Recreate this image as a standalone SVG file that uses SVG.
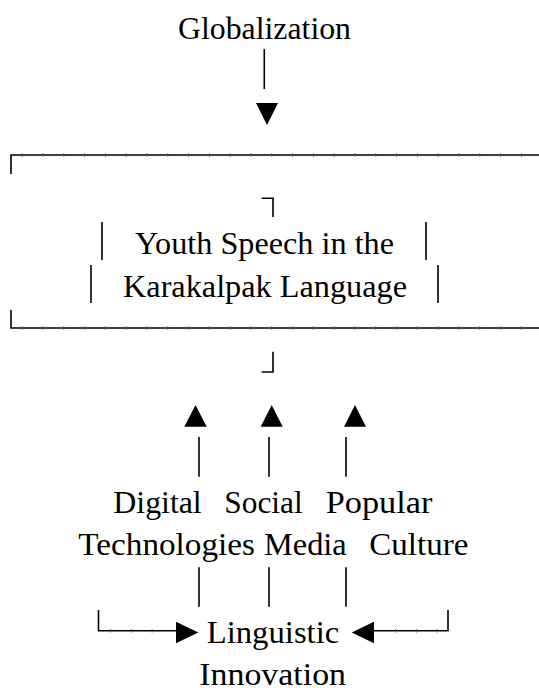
<svg xmlns="http://www.w3.org/2000/svg" width="539" height="688" viewBox="0 0 539 688">
<style>
.t{font-family:"Liberation Serif","Times New Roman",serif;font-size:32px;fill:#000}
.ln{stroke:#000;stroke-width:1.6;fill:none;stroke-linecap:butt}
.tk{stroke:#555;stroke-width:3.4;fill:none;stroke-dasharray:1 19.8}
.ar{fill:#000}
</style>
<rect width="539" height="688" fill="#fff"/>
<g id="globalization"><text class="t" x="178" y="39.3" textLength="173" lengthAdjust="spacingAndGlyphs">Globalization</text></g>
<g id="youth-speech">
<text class="t" x="135" y="254" textLength="259" lengthAdjust="spacingAndGlyphs">Youth Speech in the</text>
<text class="t" x="123" y="297" textLength="284" lengthAdjust="spacingAndGlyphs">Karakalpak Language</text>
<path class="ln" d="M11,174 V155 H539"/>
<path class="tk" d="M21.7,155 H539"/>
<path class="ln" d="M11,310 V328 H539"/>
<path class="tk" d="M21.7,328 H539"/>
<path class="ln" d="M261.7,198.3 H273 V217"/>
<path class="ln" d="M102,222 V260 M426,222 V260 M91,265 V303 M438,265 V303"/>
<path class="ln" d="M273,351.7 V372 H261.7"/>
</g>
<g id="digital-technologies">
<text class="t" x="113.3" y="513.3" textLength="88.4" lengthAdjust="spacingAndGlyphs">Digital</text>
<text class="t" x="78.3" y="555" textLength="176.7" lengthAdjust="spacingAndGlyphs">Technologies</text>
</g>
<g id="social-media">
<text class="t" x="224.3" y="513.3" textLength="78.4" lengthAdjust="spacingAndGlyphs">Social</text>
<text class="t" x="264" y="555" textLength="82.7" lengthAdjust="spacingAndGlyphs">Media</text>
</g>
<g id="popular-culture">
<text class="t" x="325.7" y="513.3" textLength="106.6" lengthAdjust="spacingAndGlyphs">Popular</text>
<text class="t" x="369.3" y="555" textLength="99" lengthAdjust="spacingAndGlyphs">Culture</text>
</g>
<g id="linguistic-innovation">
<text class="t" x="206.7" y="642.5" textLength="132.6" lengthAdjust="spacingAndGlyphs">Linguistic</text>
<text class="t" x="199.3" y="685" textLength="146.7" lengthAdjust="spacingAndGlyphs">Innovation</text>
</g>
<g id="connectors">
<path class="ln" d="M264.3,49 V89"/>
<polygon class="ar" points="256,103 278,103 267,125"/>
<polygon class="ar" points="184.3,426.7 206.7,426.7 195.5,405"/>
<polygon class="ar" points="260.7,426.7 282.7,426.7 271.7,405"/>
<polygon class="ar" points="344,426.7 366,426.7 355,405"/>
<path class="ln" d="M199,437 V476.7 M269,437 V476.7 M346,437 V476.7"/>
<path class="ln" d="M199,567.3 V606.7 M269,567.3 V606.7 M346,567.3 V606.7"/>
<path class="ln" d="M98.5,610 V630.7 H176"/>
<path class="tk" d="M110,630.7 H170"/>
<polygon class="ar" points="176,621.7 176,643.3 198.3,632.5"/>
<path class="ln" d="M374,630.7 H448 V610"/>
<path class="tk" d="M395,630.7 H445"/>
<polygon class="ar" points="374,621.7 374,643.3 351.7,632.5"/>
</g>
</svg>
